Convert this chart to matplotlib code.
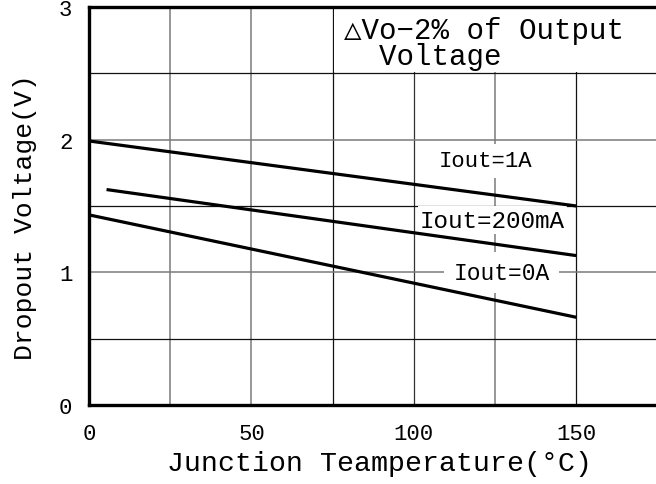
import matplotlib.pyplot as plt
from matplotlib.patches import Rectangle

temp_1a = [0, 150]
vdrop_1a = [1.99, 1.50]
temp_200ma = [5.4, 150]
vdrop_200ma = [1.624, 1.126]
temp_0a = [0, 150]
vdrop_0a = [1.433, 0.661]

curve_labels = ['Iout=1A', 'Iout=200mA', 'Iout=0A']
label_x = [122, 124.2, 127]
label_y = [1.84, 1.394, 1.0]

x_ticks = [0, 50, 100, 150]
y_ticks = [0, 1, 2, 3]
x_grid = [25, 50, 75, 100, 125, 150]
y_grid = [0.5, 1.0, 1.5, 2.0, 2.5]

mono = ['Liberation Mono', 'DejaVu Sans Mono']

fig = plt.figure(figsize=(6.56, 4.85), dpi=100)
ax = fig.add_axes([89 / 656, 79 / 485, 567 / 656, 398 / 485])

ax.set_xlim(0, 174.5)
ax.set_ylim(0, 3)
ax.set_xticks(x_ticks)
ax.set_yticks(y_ticks)

# grid lines, gray and black mixed like on the scanned sheet
x_grid_col = ['#7a7a7a', '#7a7a7a', '#111111', '#333333', '#7a7a7a', '#111111']
y_grid_col = ['#111111', '#7a7a7a', '#111111', '#7a7a7a', '#111111']
for gx, c in zip(x_grid, x_grid_col):
    ax.axvline(gx, color=c, lw=1.1 if c == '#7a7a7a' else 0.9, zorder=1)
for gy, c in zip(y_grid, y_grid_col):
    ax.axhline(gy, color=c, lw=1.1 if c == '#7a7a7a' else 0.9, zorder=1)

ax.tick_params(which='both', length=0)
ax.tick_params(axis='x', pad=13, labelsize=16)
ax.tick_params(axis='y', pad=12, labelsize=16)
for lab in ax.get_xticklabels() + ax.get_yticklabels():
    lab.set_family(mono)

for s in ['left', 'bottom', 'top']:
    ax.spines[s].set_linewidth(2.4)
    ax.spines[s].set_color('black')
ax.spines['right'].set_visible(False)

# white panel holding the note in the top right
ax.add_patch(Rectangle((75.5, 2.51), 100, 0.49, facecolor='white', edgecolor='none', zorder=1.5))
ax.text(78.5, 2.93, '\u25b3Vo\u22122% of Output\n  Voltage', family=mono, fontsize=21,
        va='top', ha='left', linespacing=0.88, zorder=3)

# labels sit on white patches that hide the grid, curves are drawn over them
for txt, x, y, fs, pad in zip(curve_labels, label_x, label_y, [16, 17.5, 16.5], [0.3, 0.1, 0.4]):
    ax.text(x, y, txt, family=mono, fontsize=fs, ha='center', va='center', zorder=3,
            bbox=dict(boxstyle=f'square,pad={pad}', facecolor='white', edgecolor='none'))

ax.plot(temp_1a, vdrop_1a, color='black', lw=2.3, zorder=5, solid_capstyle='butt')
ax.plot(temp_200ma, vdrop_200ma, color='black', lw=2.3, zorder=5, solid_capstyle='butt')
ax.plot(temp_0a, vdrop_0a, color='black', lw=2.3, zorder=5, solid_capstyle='butt')

ax.set_xlabel('Junction Teamperature(\u00b0C)', family=mono, fontsize=20.3)
ax.set_ylabel('Dropout Voltage(V)', family=mono, fontsize=19)
ax.xaxis.set_label_coords(0.513, -0.113)
ax.xaxis.label.set_va('top')
ax.yaxis.set_label_coords(-0.092, 0.475)

fig.savefig('out.png', dpi=100)
